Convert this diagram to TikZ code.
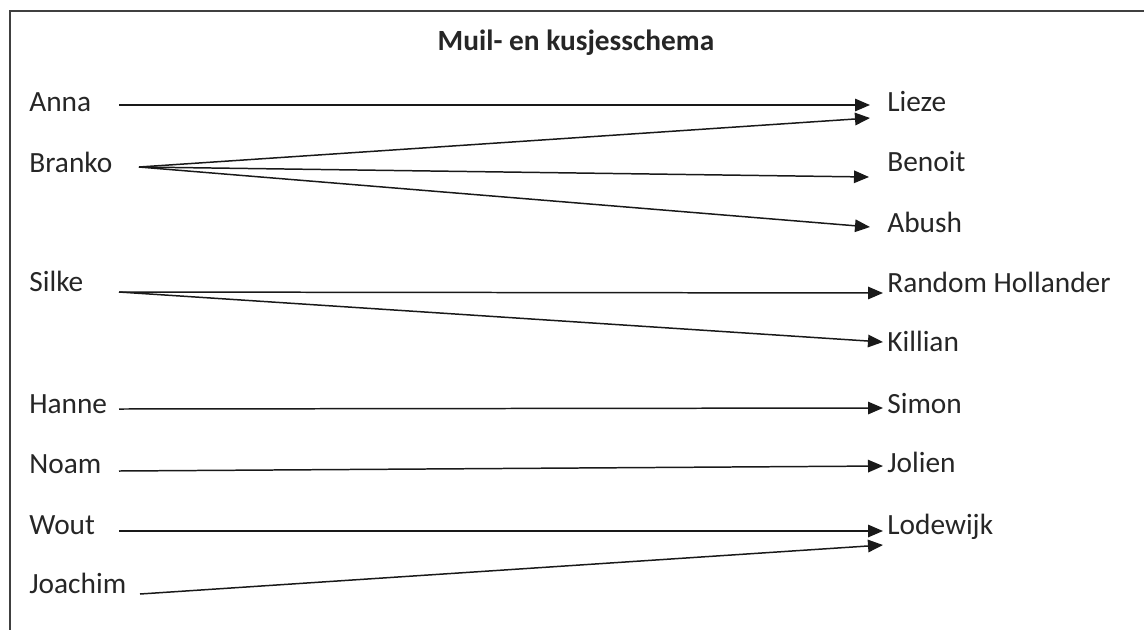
\documentclass[tikz,border=0pt]{standalone}
\usepackage{fontspec}
\setmainfont{Carlito}
\usetikzlibrary{arrows.meta,calc}
\begin{document}
\begin{tikzpicture}[x=0.02cm, y=-0.02cm, >={Triangle[length=0.3cm,width=0.25cm]},
    person/.style={anchor=base west, inner sep=0pt, text=black!85, font=\fontsize{16.7}{20}\selectfont},
    pijl/.style={->, line width=0.85pt, black!90}]
  \useasboundingbox (0,0) rectangle (1144,630);
  \draw[line width=1.3pt, black!75] (1144,11) -- (10,11) -- (10,630);
  \node[person, anchor=base, font=\bfseries\fontsize{16.7}{20}\selectfont] (Titel) at (576,50) {Muil- en kusjesschema};
  % links
  \node[person] (Anna) at (29,111) {Anna};
  \node[person] (Branko) at (29,172) {Branko};
  \node[person] (Silke) at (29,291) {Silke};
  \node[person] (Hanne) at (29,413) {Hanne};
  \node[person] (Noam) at (29,473) {Noam};
  \node[person] (Wout) at (29,534) {Wout};
  \node[person] (Joachim) at (29,593) {Joachim};
  % rechts
  \node[person] (Lieze) at (887,111) {Lieze};
  \node[person] (Benoit) at (887,171) {Benoit};
  \node[person] (Abush) at (887,232) {Abush};
  \node[person] (Random) at (887,292) {Random Hollander};
  \node[person] (Killian) at (887,351) {Killian};
  \node[person] (Simon) at (887,413) {Simon};
  \node[person] (Jolien) at (887,472) {Jolien};
  \node[person] (Lodewijk) at (887,534) {Lodewijk};
  % pijlen
  \draw[pijl] ($(Anna.base west)+(90,-6)$) -- ($(Lieze.base west)+(-17,-6)$);
  \draw[pijl] ($(Branko.base west)+(110,-5)$) -- ($(Lieze.base west)+(-17,7)$);
  \draw[pijl] ($(Branko.base west)+(110,-5)$) -- ($(Benoit.base west)+(-18,6)$);
  \draw[pijl] ($(Branko.base west)+(110,-5)$) -- ($(Abush.base west)+(-17,-5)$);
  \draw[pijl] ($(Silke.base west)+(90,1)$) -- ($(Random.base west)+(-4,1)$);
  \draw[pijl] ($(Silke.base west)+(90,1)$) -- ($(Killian.base west)+(-4,-9)$);
  \draw[pijl] ($(Hanne.base west)+(90,-4)$) -- ($(Simon.base west)+(-4,-5)$);
  \draw[pijl] ($(Noam.base west)+(90,-2)$) -- ($(Jolien.base west)+(-4,-6)$);
  \draw[pijl] ($(Wout.base west)+(90,-3)$) -- ($(Lodewijk.base west)+(-4,-3)$);
  \draw[pijl] ($(Joachim.base west)+(111,1)$) -- ($(Lodewijk.base west)+(-4,11)$);
\end{tikzpicture}
\end{document}
